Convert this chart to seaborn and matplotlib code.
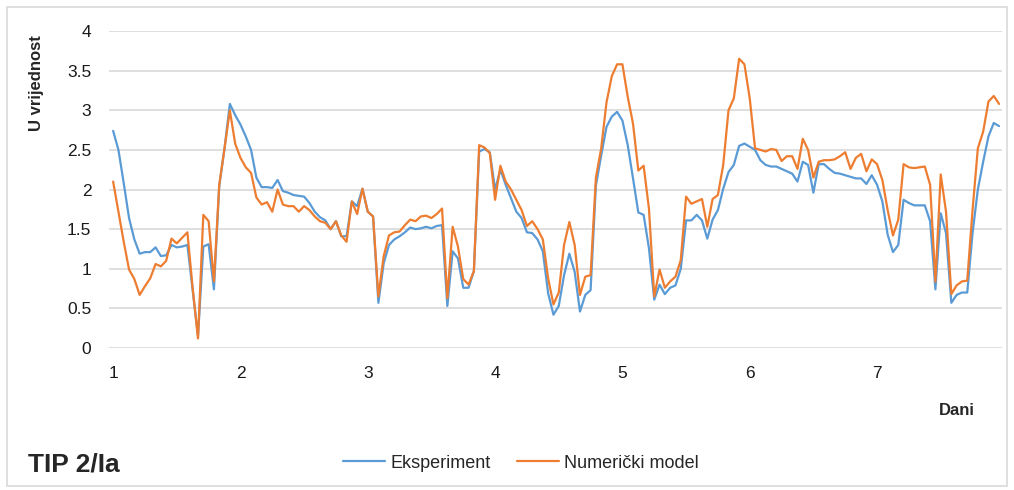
import matplotlib
matplotlib.use("Agg")
import matplotlib.pyplot as plt
from matplotlib.patches import Rectangle
import seaborn as sns
import numpy as np
import pandas as pd

# hourly readings, 7 days
eksperiment = [
    2.74, 2.50, 2.08, 1.64, 1.37, 1.19, 1.21, 1.21, 1.27, 1.16,
    1.17, 1.30, 1.27, 1.28, 1.30, 0.72, 0.15, 1.28, 1.31, 0.74,
    2.04, 2.52, 3.08, 2.94, 2.82, 2.67, 2.50, 2.15, 2.03, 2.03,
    2.02, 2.12, 1.98, 1.96, 1.93, 1.92, 1.91, 1.83, 1.72, 1.65,
    1.61, 1.50, 1.60, 1.41, 1.41, 1.85, 1.79, 2.01, 1.72, 1.66,
    0.57, 1.07, 1.30, 1.37, 1.41, 1.46, 1.52, 1.50, 1.51, 1.53,
    1.51, 1.54, 1.55, 0.53, 1.22, 1.13, 0.76, 0.76, 0.97, 2.48,
    2.51, 2.47, 2.00, 2.25, 2.06, 1.89, 1.72, 1.64, 1.46, 1.45,
    1.37, 1.22, 0.69, 0.42, 0.53, 0.92, 1.19, 0.96, 0.46, 0.67,
    0.73, 2.05, 2.43, 2.79, 2.92, 2.98, 2.87, 2.56, 2.14, 1.71,
    1.68, 1.26, 0.61, 0.80, 0.68, 0.76, 0.79, 1.00, 1.61, 1.61,
    1.68, 1.61, 1.38, 1.62, 1.74, 2.01, 2.22, 2.31, 2.55, 2.58,
    2.54, 2.50, 2.37, 2.31, 2.29, 2.29, 2.26, 2.23, 2.20, 2.10,
    2.35, 2.31, 1.96, 2.32, 2.32, 2.26, 2.21, 2.20, 2.18, 2.16,
    2.14, 2.14, 2.07, 2.18, 2.06, 1.85, 1.43, 1.21, 1.30, 1.87,
    1.83, 1.80, 1.80, 1.80, 1.60, 0.74, 1.70, 1.45, 0.57, 0.67,
    0.70, 0.70, 1.45, 2.00, 2.35, 2.67, 2.84, 2.80,
]

numericki_model = [
    2.10, 1.72, 1.34, 0.99, 0.87, 0.67, 0.78, 0.88, 1.06, 1.03,
    1.10, 1.38, 1.32, 1.39, 1.46, 0.75, 0.12, 1.68, 1.60, 0.84,
    2.06, 2.52, 3.00, 2.58, 2.40, 2.28, 2.21, 1.90, 1.81, 1.84,
    1.72, 2.00, 1.81, 1.79, 1.79, 1.72, 1.79, 1.74, 1.66, 1.60,
    1.58, 1.50, 1.60, 1.42, 1.34, 1.85, 1.69, 2.01, 1.72, 1.66,
    0.65, 1.16, 1.42, 1.46, 1.47, 1.55, 1.62, 1.60, 1.66, 1.67,
    1.64, 1.69, 1.76, 0.63, 1.53, 1.28, 0.87, 0.80, 0.97, 2.56,
    2.53, 2.46, 1.87, 2.30, 2.10, 2.00, 1.87, 1.74, 1.54, 1.60,
    1.50, 1.37, 0.88, 0.55, 0.70, 1.30, 1.59, 1.30, 0.67, 0.90,
    0.92, 2.15, 2.52, 3.10, 3.43, 3.58, 3.58, 3.17, 2.83, 2.24,
    2.30, 1.76, 0.65, 0.99, 0.76, 0.84, 0.90, 1.11, 1.91, 1.82,
    1.85, 1.88, 1.53, 1.88, 1.93, 2.31, 3.00, 3.15, 3.65, 3.58,
    3.15, 2.52, 2.50, 2.48, 2.51, 2.50, 2.36, 2.42, 2.42, 2.26,
    2.64, 2.50, 2.15, 2.35, 2.37, 2.37, 2.38, 2.42, 2.47, 2.26,
    2.40, 2.45, 2.23, 2.38, 2.32, 2.12, 1.74, 1.42, 1.62, 2.32,
    2.28, 2.27, 2.28, 2.29, 2.06, 0.84, 2.19, 1.72, 0.68, 0.79,
    0.84, 0.85, 1.74, 2.52, 2.73, 3.11, 3.18, 3.08,
]

dani = 1 + np.arange(len(eksperiment)) / 24
series_names = ["Eksperiment", "Numerički model"]
colors = ["#5B9BD5", "#ED7D31"]
x_ticks = [1, 2, 3, 4, 5, 6, 7]
y_ticks = [0, 0.5, 1, 1.5, 2, 2.5, 3, 3.5, 4]

df = pd.DataFrame({
    "Dani": np.concatenate([dani, dani]),
    "U": np.concatenate([eksperiment, numericki_model]),
    "serija": [series_names[0]] * len(dani) + [series_names[1]] * len(dani),
})

sns.set_style("white")
plt.rcParams["font.family"] = ["Liberation Sans", "DejaVu Sans"]

fig = plt.figure(figsize=(10.14, 4.90), dpi=100)
ax = fig.add_axes([0.1078, 0.2898, 0.8802, 0.6469])

sns.lineplot(data=df, x="Dani", y="U", hue="serija", palette=colors,
             linewidth=1.6, ax=ax, legend=False)

ax.set_xlim(0.97, 7.98)
ax.set_ylim(0, 4)
ax.set_xticks(x_ticks)
ax.set_yticks(y_ticks)
ax.set_yticklabels(["0", "0.5", "1", "1.5", "2", "2.5", "3", "3.5", "4"])
ax.tick_params(axis="both", length=0, labelsize=12.5, colors="#1a1a1a")
ax.tick_params(axis="y", pad=13)
ax.tick_params(axis="x", pad=13)
ax.grid(axis="y", color="#d9d9d9", linewidth=1.2)
ax.set_axisbelow(True)
for s in ax.spines.values():
    s.set_visible(False)
ax.set_xlabel("")
ax.set_ylabel("")

fig.text(0.036, 0.83, "U vrijednost", rotation=90, ha="center", va="center",
         fontsize=12, fontweight="bold")
fig.text(0.944, 0.163, "Dani", ha="center", va="center",
         fontsize=12, fontweight="bold")
fig.text(0.028, 0.053, "TIP 2/Ia", ha="left", va="center",
         fontsize=19, fontweight="bold")

handles = [plt.Line2D([], [], color=c, linewidth=1.6) for c in colors]
fig.legend(handles, series_names, loc="center", bbox_to_anchor=(0.514, 0.055),
           ncol=2, frameon=False, fontsize=13, handlelength=2.3,
           handletextpad=0.3, columnspacing=1.5)

fig.add_artist(Rectangle((7 / 1014, 4 / 490), 1000 / 1014, 479 / 490,
                         transform=fig.transFigure, fill=False,
                         edgecolor="#d9d9d9", linewidth=1.2))

fig.savefig("out.png", dpi=100)
